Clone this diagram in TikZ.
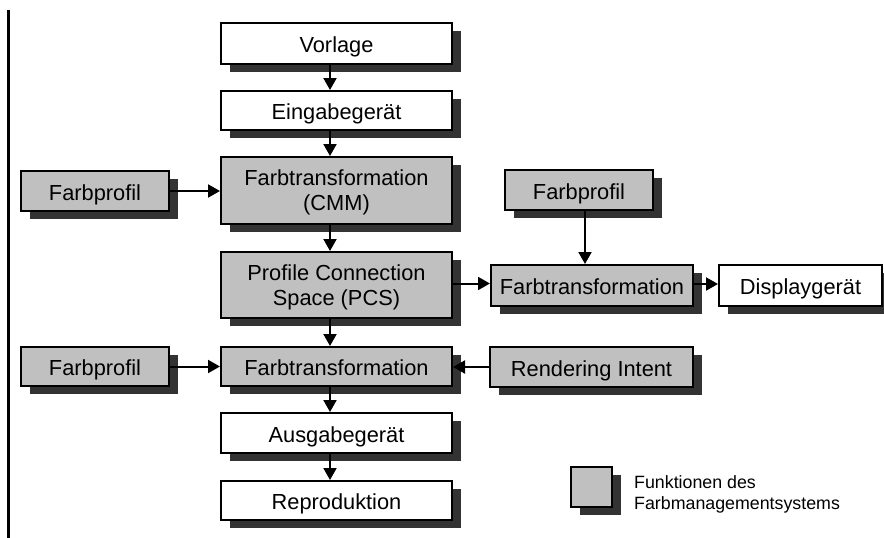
\documentclass[tikz,border=0pt]{standalone}
\usepackage{fontspec}
\setmainfont{Liberation Sans}
\usetikzlibrary{arrows.meta,shadows}
\definecolor{fmsgray}{HTML}{C0C0C0}
\definecolor{shadegray}{HTML}{333333}

\begin{document}
\begin{tikzpicture}[x=1pt,y=-1pt,
  box/.style={draw=black, line width=2pt, inner sep=0pt, minimum height=40pt,
    general shadow={fill=shadegray, shadow xshift=9pt, shadow yshift=-8pt},
    font=\fontsize{21.8pt}{25pt}\selectfont},
  plainbox/.style={box, fill=white},
  fmsbox/.style={box, fill=fmsgray},
  oneline/.style={text height=18pt, text depth=0pt},
  twoline/.style={align=center, text depth=0pt},
  link/.style={line width=2pt, -{Triangle[length=12pt,width=13pt]}},
]
\useasboundingbox (0,0) rectangle (884,538);

% margin rule
\draw[line width=3pt] (8.5,10) -- (8.5,538);

% main column
\node[plainbox, oneline, minimum width=231pt, minimum height=41pt] (vorlage) at (336.5,43.5) {Vorlage};
\node[plainbox, oneline, minimum width=231pt, minimum height=39pt] (eingabe) at (336.5,110.5) {Eingabegerät};
\node[fmsbox, twoline, minimum width=231pt, minimum height=67pt] (cmm) at (336.5,190.5) {Farbtransformation\\(CMM)};
\node[fmsbox, twoline, minimum width=231pt, minimum height=66pt] (pcs) at (336.5,285) {Profile Connection\\Space (PCS)};
\node[fmsbox, oneline, minimum width=231pt, minimum height=39pt] (ftout) at (336.5,366.5) {Farbtransformation};
\node[plainbox, oneline, minimum width=231pt, minimum height=40pt] (ausgabe) at (336.5,433) {Ausgabegerät};
\node[plainbox, oneline, minimum width=231pt, minimum height=39pt] (repro) at (336.5,500.5) {Reproduktion};

% profiles on the left
\node[fmsbox, oneline, minimum width=148pt, minimum height=40pt] (fpin) at (95,191) {Farbprofil};
\node[fmsbox, oneline, minimum width=148pt, minimum height=39pt] (fpout) at (95,366.5) {Farbprofil};

% display branch and rendering intent
\node[fmsbox, oneline, minimum width=148pt, minimum height=40pt] (fpdisp) at (579,190) {Farbprofil};
\node[fmsbox, oneline, minimum width=202pt, minimum height=41pt] (ftdisp) at (592,285.5) {Farbtransformation};
\node[plainbox, oneline, minimum width=163pt, minimum height=41pt] (display) at (800.5,285.5) {Displaygerät};
\node[fmsbox, oneline, minimum width=203pt, minimum height=40pt] (intent) at (591.5,367) {Rendering Intent};

% legend
\node[fmsbox, minimum width=41pt, minimum height=40pt] (legbox) at (591.5,487) {};
\node[anchor=west, align=left, inner sep=0pt, font=\fontsize{17.8pt}{21pt}\selectfont] (legtext) at (634,494) {Funktionen des\\Farbmanagementsystems};

% vertical flow
\draw[link] ([xshift=-6.5pt]vorlage.south) -- ([xshift=-6.5pt]eingabe.north);
\draw[link] ([xshift=-6.5pt]eingabe.south) -- ([xshift=-6.5pt]cmm.north);
\draw[link] ([xshift=-6.5pt]cmm.south) -- ([xshift=-6.5pt]pcs.north);
\draw[link] ([xshift=-6.5pt]pcs.south) -- ([xshift=-6.5pt]ftout.north);
\draw[link] ([xshift=-6.5pt]ftout.south) -- ([xshift=-6.5pt]ausgabe.north);
\draw[link] ([xshift=-6.5pt]ausgabe.south) -- ([xshift=-6.5pt]repro.north);

% side inputs
\draw[link] (fpin.east) -- (fpin.east -| cmm.west);
\draw[link] (fpout.east) -- (fpout.east -| ftout.west);
\draw[link] (intent.west) -- (intent.west -| ftout.east);
\draw[link] ([yshift=1.5pt]pcs.east) -- ([yshift=1.5pt]pcs.east -| ftdisp.west);
\draw[link] ([xshift=6pt]fpdisp.south) -- ([xshift=6pt]fpdisp.south |- ftdisp.north);
\draw[link] ([yshift=1.5pt]ftdisp.east) -- ([yshift=1.5pt]ftdisp.east -| display.west);
\end{tikzpicture}
\end{document}
